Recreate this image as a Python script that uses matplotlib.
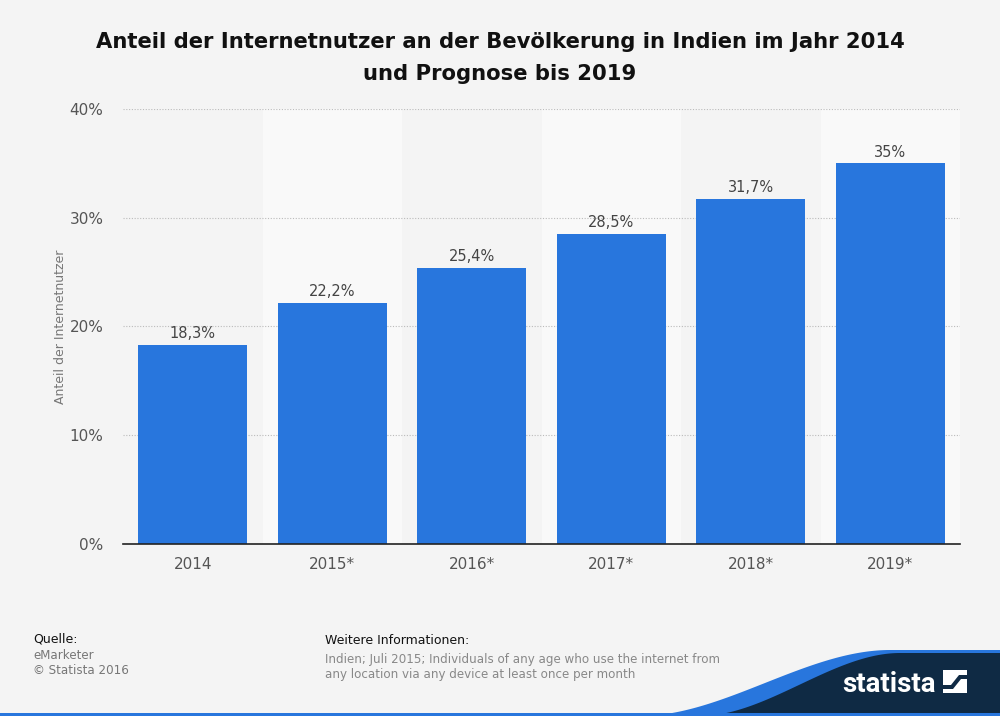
import numpy as np
import matplotlib.pyplot as plt
from matplotlib.patches import Polygon

# data
years = ['2014', '2015*', '2016*', '2017*', '2018*', '2019*']
share = [18.3, 22.2, 25.4, 28.5, 31.7, 35.0]
labels = ['18,3%', '22,2%', '25,4%', '28,5%', '31,7%', '35%']
yticks = [0, 10, 20, 30, 40]

bg = '#f4f4f4'
bar_color = '#2876dd'
navy_color = '#0f2a44'
W, H = 1000, 716

fig = plt.figure(figsize=(10, 7.16), dpi=100, facecolor=bg)
ax = fig.add_axes([0.123, 0.2402, 0.837, 0.6076], facecolor=bg)

x = np.arange(len(years))
# lighter bands behind every second column
for i in x:
    if i % 2 == 1:
        ax.axvspan(i - 0.5, i + 0.5, color='#f9f9f9', zorder=0, lw=0)

ax.bar(x, share, width=0.78, color=bar_color, zorder=3)
for xi, v, t in zip(x, share, labels):
    ax.text(xi, v + 0.35, t, ha='center', va='bottom', fontsize=10.5, color='#444444', zorder=4)

ax.set_xlim(-0.5, len(years) - 0.5)
ax.set_ylim(0, 40)
ax.set_yticks(yticks)
ax.set_yticklabels([f'{t}%' for t in yticks])
ax.set_xticks(x)
ax.set_xticklabels(years)
ax.tick_params(axis='both', length=0, labelsize=11, colors='#555555')
ax.tick_params(axis='y', pad=14)
ax.tick_params(axis='x', pad=9)
ax.grid(axis='y', color='#bbbbbb', linestyle=(0, (1, 1.5)), lw=0.8, zorder=1)
for s in ['top', 'right', 'left']:
    ax.spines[s].set_visible(False)
ax.spines['bottom'].set_color('#222222')
ax.spines['bottom'].set_linewidth(1.2)
ax.spines['bottom'].set_zorder(5)
ax.set_ylabel('Anteil der Internetnutzer', fontsize=9, color='#777777', labelpad=2)

fig.text(0.5, 0.955, 'Anteil der Internetnutzer an der Bevölkerung in Indien im Jahr 2014\nund Prognose bis 2019',
         ha='center', va='top', fontsize=15.25, fontweight='bold', color='#111111', linespacing=1.75)

# footer
fig.text(0.033, 0.108, 'Quelle:', fontsize=9, color='#111111', va='center')
fig.text(0.033, 0.085, 'eMarketer', fontsize=8.6, color='#777777', va='center')
fig.text(0.033, 0.063, '© Statista 2016', fontsize=8.6, color='#777777', va='center')
fig.text(0.325, 0.105, 'Weitere Informationen:', fontsize=9, color='#111111', va='center')
fig.text(0.325, 0.079, 'Indien; Juli 2015; Individuals of any age who use the internet from', fontsize=8.6, color='#888888', va='center')
fig.text(0.325, 0.058, 'any location via any device at least once per month', fontsize=8.6, color='#888888', va='center')


def swoosh(x0, x1, y0, y1):
    # smoothstep edge in pixel coords, closed to the bottom right corner
    t = np.linspace(0, 1, 80)
    s = 3 * t**2 - 2 * t**3
    px = np.r_[x0 + (x1 - x0) * t, W, W]
    py = np.r_[y0 + (y1 - y0) * s, y1, H]
    return np.column_stack([px / W, 1 - py / H])


def px_poly(pts, color):
    return Polygon([[a / W, 1 - b / H] for a, b in pts], closed=True,
                   transform=fig.transFigure, color=color, lw=0)


fig.patches.append(Polygon(swoosh(640, 890, 716, 650), closed=True, transform=fig.transFigure,
                           color=bar_color, lw=0))
fig.patches.append(Polygon(swoosh(700, 900, 716, 653), closed=True, transform=fig.transFigure,
                           color=navy_color, lw=0))
fig.patches.append(px_poly([(0, 713), (W, 713), (W, H), (0, H)], bar_color))
fig.text(889 / W, 1 - 684 / H, 'statista', fontsize=20, fontweight='bold', family='Roboto',
         color='white', ha='center', va='center')

# logo mark
fig.patches.append(px_poly([(943, 670), (967, 670), (967, 693), (943, 693)], 'white'))
fig.patches.append(px_poly([(943, 685), (951, 685), (959, 675), (967, 675),
                            (967, 679), (961, 679), (953, 689), (943, 689)], navy_color))

fig.savefig('out.png', dpi=100, facecolor=bg)
